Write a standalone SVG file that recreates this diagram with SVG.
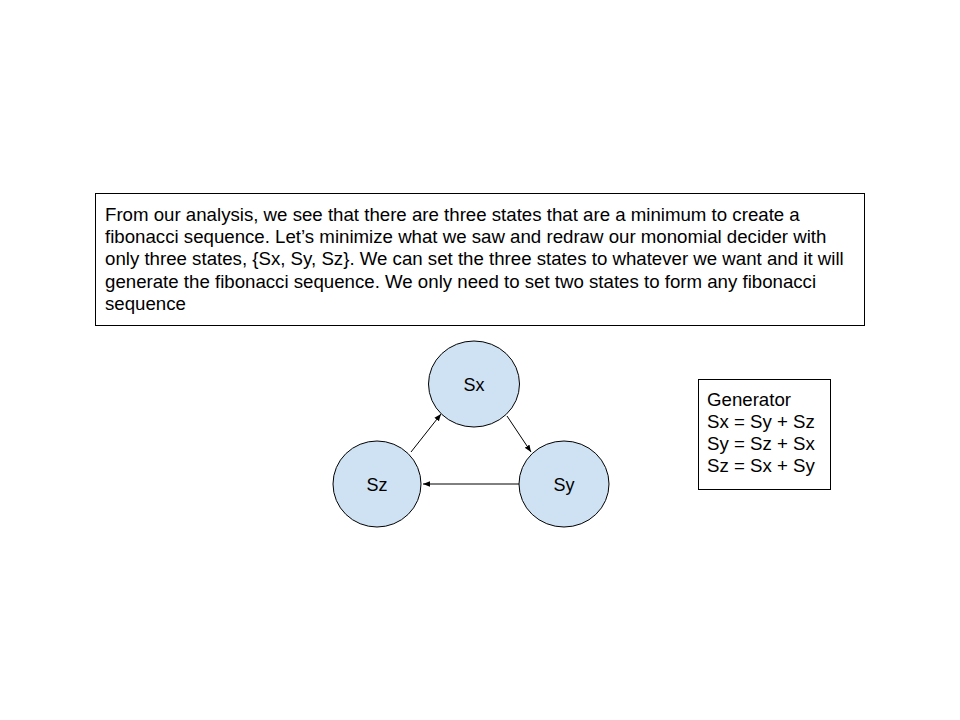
<svg xmlns="http://www.w3.org/2000/svg" width="960" height="720" viewBox="0 0 960 720">
<style>
.t{font-family:"Liberation Sans",Arial,sans-serif;font-size:18.67px;fill:#000}
.n{fill:#cfe2f3;stroke:#000;stroke-width:1}
.box{fill:#fff;stroke:#000;stroke-width:1}
.c{stroke:#000;stroke-width:1;fill:none;marker-end:url(#ah)}
.lbl{font-family:"Liberation Sans",Arial,sans-serif;font-size:18px;text-anchor:middle;fill:#000}
</style>
<defs>
<marker id="ah" viewBox="0 0 10 10" refX="10" refY="5" markerWidth="7" markerHeight="7" orient="auto" markerUnits="userSpaceOnUse">
<path d="M0,1 L10,5 L0,9 z" fill="#000"/>
</marker>
</defs>
<rect width="960" height="720" fill="#fff"/>
<g id="description">
<rect class="box" x="95.5" y="193.5" width="769" height="132"/>
<text class="t" x="105" y="221">From our analysis, we see that there are three states that are a minimum to create a</text>
<text class="t" x="105" y="243">fibonacci sequence. Let’s minimize what we saw and redraw our monomial decider with</text>
<text class="t" x="105" y="265">only three states, {Sx, Sy, Sz}. We can set the three states to whatever we want and it will</text>
<text class="t" x="105" y="288">generate the fibonacci sequence. We only need to set two states to form any fibonacci</text>
<text class="t" x="105" y="310">sequence</text>
</g>
<g id="connectors">
<line class="c" x1="411" y1="452" x2="441" y2="414"/>
<line class="c" x1="507" y1="416" x2="531" y2="452"/>
<line class="c" x1="519" y1="484" x2="423" y2="484"/>
</g>
<g id="Sx">
<ellipse class="n" cx="474" cy="384" rx="45.5" ry="43"/>
<text class="lbl" x="474" y="391">Sx</text>
</g>
<g id="Sz">
<ellipse class="n" cx="377" cy="484" rx="44" ry="43"/>
<text class="lbl" x="377" y="491">Sz</text>
</g>
<g id="Sy">
<ellipse class="n" cx="564" cy="484" rx="45" ry="43"/>
<text class="lbl" x="564" y="491">Sy</text>
</g>
<g id="generator">
<rect class="box" x="698.5" y="379.5" width="132" height="110"/>
<text class="t" x="707" y="406">Generator</text>
<text class="t" x="707" y="428">Sx = Sy + Sz</text>
<text class="t" x="707" y="450">Sy = Sz + Sx</text>
<text class="t" x="707" y="472">Sz = Sx + Sy</text>
</g>
</svg>
